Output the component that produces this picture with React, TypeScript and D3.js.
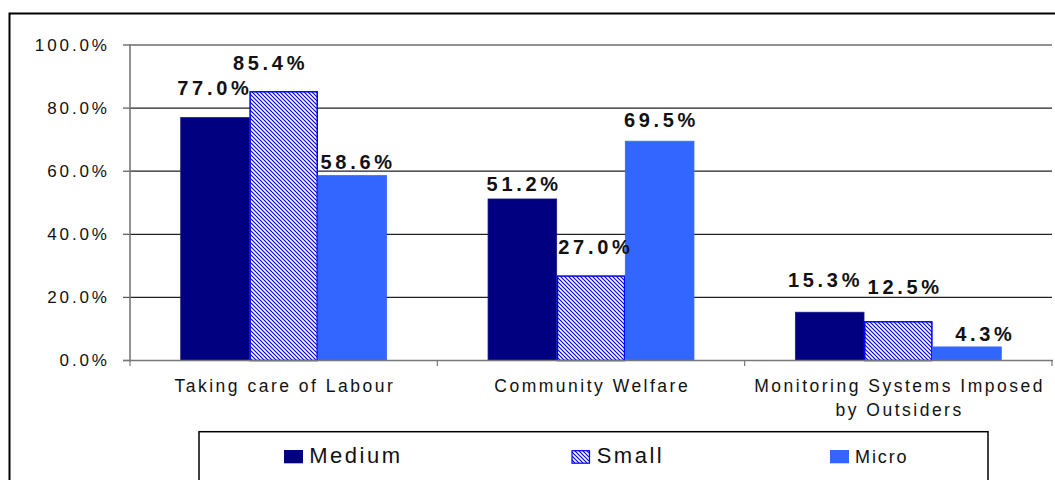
import React from "react";
import * as d3 from "d3";

const categories = ["Taking care of Labour", "Community Welfare", "Monitoring Systems Imposed by Outsiders"];
const seriesNames = ["Medium", "Small", "Micro"];
const mediumValues = [77.0, 51.2, 15.3];
const smallValues = [85.4, 27.0, 12.5];
const microValues = [58.6, 69.5, 4.3];
const yTickValues = [0, 20, 40, 60, 80, 100];

const FONT = "'Liberation Sans', Arial, Helvetica, sans-serif";
const W = 1055;
const H = 480;

// label nudges (dx, dy from bar top) per series per category, as placed in the original
const labelNudges: [number, number][][] = [
  [[-2, -23], [0, -8], [-6, -25.5]],
  [[-15, -21], [3, -21.5], [5, -27.5]],
  [[4, -6.5], [0, -14.5], [16.5, -5.5]],
];

function wrap(text: string, maxChars: number): string[] {
  const words = text.split(" ");
  const lines: string[] = [];
  let cur = "";
  for (const w of words) {
    const next = cur ? cur + " " + w : w;
    if (next.length > maxChars && cur) {
      lines.push(cur);
      cur = w;
    } else cur = next;
  }
  if (cur) lines.push(cur);
  return lines;
}

export default function App() {
  const seriesValues = [mediumValues, smallValues, microValues];
  const fills = ["#000080", "url(#hatch)", "#3366FF"];
  const strokes = ["#1a1a8c", "#0000FF", "#3366FF"];

  const x = d3.scaleBand<string>().domain(categories).range([130, 1052]).paddingInner(0.33).paddingOuter(0.165);
  const xs = d3.scaleBand<string>().domain(seriesNames).range([0, x.bandwidth()]).padding(0);
  const y = d3.scaleLinear().domain([0, 100]).range([360.5, 45]);
  const step = x.step();
  const boundaries = d3.range(categories.length + 1).map((i) => 130 + i * step);

  const tickLs = 2.9;
  const catLs = 2.5;
  const valLs = 3.7;

  const legendItems = [
    { name: seriesNames[0], fill: fills[0], stroke: "none", sx: 284, sw: 19, sh: 13.3, sy: 450, tx: 309.3, fs: 22, ls: 2.5 },
    { name: seriesNames[1], fill: "url(#hatch)", stroke: "#0000FF", sx: 572, sw: 17.5, sh: 12.5, sy: 450.7, tx: 596.7, fs: 22, ls: 2.5 },
    { name: seriesNames[2], fill: fills[2], stroke: "none", sx: 830, sw: 19, sh: 13.3, sy: 450, tx: 855, fs: 18, ls: 1.9 },
  ];

  return (
    <svg
      width={W}
      height={H}
      style={{ position: "absolute", left: 0, top: 0, background: "#fff" }}
      fontFamily={FONT}
    >
      <defs>
        <pattern id="hatch" patternUnits="userSpaceOnUse" width={4} height={4}>
          <rect width={4} height={4} fill="#fff" />
          <path d="M-1,-1 L5,5 M-1,3 L1,5 M3,-1 L5,1" stroke="#0000FF" strokeWidth={1.2} />
        </pattern>
      </defs>

      {/* outer chart border */}
      <rect x={9.5} y={13.5} width={1100} height={600} fill="#fff" stroke="#000" strokeWidth={2} />

      {/* gridlines */}
      {yTickValues.filter((t) => t > 0).map((t) => (
        <line key={"g" + t} x1={130} x2={1052} y1={y(t)} y2={y(t)} stroke="#222" strokeWidth={1.2} />
      ))}

      {/* y tick marks and labels */}
      {yTickValues.map((t) => (
        <g key={"t" + t}>
          <line x1={123} x2={130} y1={y(t)} y2={y(t)} stroke="#555" strokeWidth={1.2} />
          <text
            x={107 + tickLs}
            y={y(t) + 5.8}
            textAnchor="end"
            fontSize={17}
            letterSpacing={tickLs}
            fill="#111"
          >
            {d3.format(".1f")(t) + "%"}
          </text>
        </g>
      ))}

      {/* bars */}
      {seriesNames.map((s, si) =>
        categories.map((c, ci) => {
          const v = seriesValues[si][ci];
          const bx = (x(c) as number) + (xs(s) as number);
          const bw = xs.bandwidth();
          const inset = si === 1 ? 0.75 : 0;
          return (
            <rect
              key={s + c}
              x={bx + inset}
              y={y(v) + inset}
              width={bw - 2 * inset}
              height={y(0) - y(v) - inset}
              fill={fills[si]}
              stroke={strokes[si]}
              strokeWidth={si === 1 ? 1.5 : 0.8}
            />
          );
        })
      )}

      {/* axes */}
      <line x1={130} x2={130} y1={44} y2={361.5} stroke="#777" strokeWidth={1.6} />
      <line x1={123} x2={1053} y1={360.5} y2={360.5} stroke="#777" strokeWidth={1.6} />
      {boundaries.map((b, i) => (
        <line key={"cb" + i} x1={b} x2={b} y1={360.5} y2={366} stroke="#777" strokeWidth={1.2} />
      ))}

      {/* value labels */}
      {seriesNames.map((s, si) =>
        categories.map((c, ci) => {
          const v = seriesValues[si][ci];
          const cx = (x(c) as number) + (xs(s) as number) + xs.bandwidth() / 2;
          const [dx, dy] = labelNudges[si][ci];
          return (
            <text
              key={"l" + s + c}
              x={cx + dx + valLs / 2}
              y={y(v) + dy}
              textAnchor="middle"
              fontSize={20}
              fontWeight="bold"
              letterSpacing={valLs}
              fill="#111"
            >
              {d3.format(".1f")(v) + "%"}
            </text>
          );
        })
      )}

      {/* category labels */}
      {categories.map((c) => {
        const lines = wrap(c, 26);
        const cx = (x(c) as number) + x.bandwidth() / 2;
        return (
          <text key={"c" + c} textAnchor="middle" fontSize={17.5} letterSpacing={catLs} fill="#111">
            {lines.map((ln, li) => (
              <tspan key={li} x={cx + catLs / 2} y={392 + li * 24}>
                {ln}
              </tspan>
            ))}
          </text>
        );
      })}

      {/* legend */}
      <rect x={199} y={431.7} width={789} height={120} fill="#fff" stroke="#000" strokeWidth={1.5} />
      {legendItems.map((it) => (
        <g key={"lg" + it.name}>
          <rect
            x={it.sx}
            y={it.sy}
            width={it.sw}
            height={it.sh}
            fill={it.fill}
            stroke={it.stroke}
            strokeWidth={it.stroke === "none" ? 0 : 1.2}
          />
          <text x={it.tx} y={462.5} fontSize={it.fs} letterSpacing={it.ls} fill="#111">
            {it.name}
          </text>
        </g>
      ))}
    </svg>
  );
}
